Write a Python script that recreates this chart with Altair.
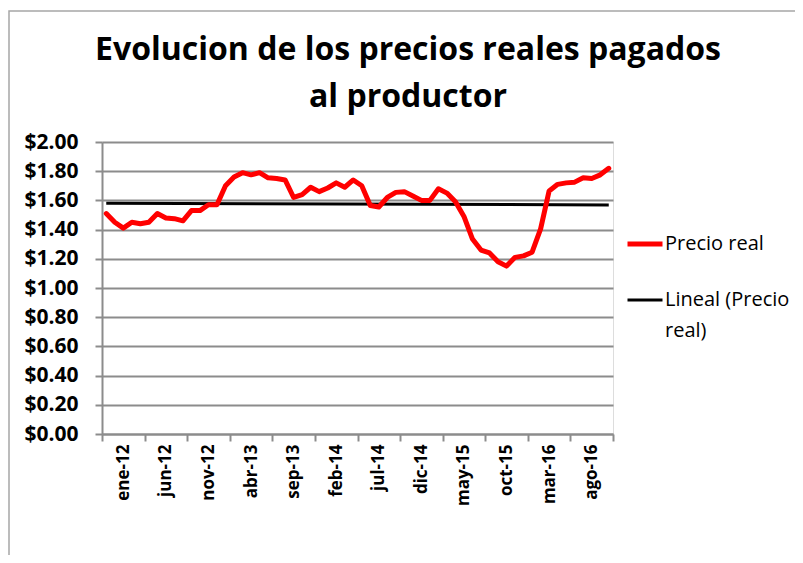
import json
import altair as alt
import pandas as pd

# Monthly real price paid to producer, ene-12 .. dic-16 (60 months)
precio = [1.51, 1.45, 1.41, 1.45, 1.44, 1.45, 1.51, 1.48, 1.475, 1.46,
          1.53, 1.53, 1.57, 1.57, 1.70, 1.76, 1.79, 1.775, 1.79, 1.755,
          1.75, 1.74, 1.62, 1.64, 1.69, 1.66, 1.685, 1.72, 1.69, 1.74,
          1.70, 1.565, 1.555, 1.62, 1.655, 1.66, 1.63, 1.60, 1.60, 1.68,
          1.65, 1.59, 1.49, 1.335, 1.26, 1.24, 1.18, 1.15, 1.21, 1.22,
          1.245, 1.405, 1.665, 1.71, 1.72, 1.725, 1.755, 1.75, 1.775, 1.82]
indice = list(range(len(precio)))
etiquetas = ["ene-12", "jun-12", "nov-12", "abr-13", "sep-13", "feb-14",
             "jul-14", "dic-14", "may-15", "oct-15", "mar-16", "ago-16"]
series = ["Precio real", "Lineal (Precio real)"]
colores = ["#ff0000", "#000000"]
grosores = [5, 3]
titulo = ["Evolucion de los precios reales pagados", "al productor"]

df = pd.DataFrame({"idx": indice, "precio": precio})

tick_vals = [-0.5 + 5 * k for k in range(13)]
label_vals = [2 + 5 * k for k in range(12)]
label_expr = ("floor(datum.value) == datum.value ? "
              + json.dumps(etiquetas) + "[(datum.value - 2) / 5] : ''")

GRID = "#8c8c8c"
FONT = "Open Sans"

x_enc = alt.X(
    "idx:Q",
    scale=alt.Scale(domain=[-0.5, 59.5], nice=False, zero=False),
    axis=alt.Axis(
        title=None, values=tick_vals + label_vals, labelExpr=label_expr,
        grid=False, domainColor=GRID, domainWidth=2,
        tickColor=GRID, tickWidth=2, tickSize=7,
        tickOpacity={"condition": {"test": "floor(datum.value) != datum.value", "value": 1}, "value": 0},
        labelAngle=270, labelFont=FONT, labelFontSize=17, labelFontWeight="bold",
        labelColor="black", labelPadding=3, labelOverlap=False,
    ),
)
y_enc = alt.Y(
    "precio:Q",
    scale=alt.Scale(domain=[0, 2], nice=False),
    axis=alt.Axis(
        title=None, values=[round(0.2 * k, 1) for k in range(11)], format="$.2f",
        grid=True, gridColor=GRID, gridWidth=2,
        domainColor=GRID, domainWidth=2, tickColor=GRID, tickWidth=2, tickSize=7,
        labelFont=FONT, labelFontSize=21, labelFontWeight="bold", labelColor="black",
        labelPadding=17, labelOverlap=False,
    ),
)

color_enc = alt.Color(
    "serie:N",
    scale=alt.Scale(domain=series, range=colores),
    legend=alt.Legend(
        title=None, orient="none", legendX=523, legendY=82,
        symbolType="stroke", symbolSize=1225, symbolStrokeWidth=4,
        labelFont=FONT, labelFontSize=20, labelColor="black", labelLimit=300,
        labelExpr="datum.label == 'Lineal (Precio real)' ? ['Lineal (Precio', 'real)'] : datum.label",
        rowPadding=27, labelOffset=0,
    ),
)
width_enc = alt.StrokeWidth(
    "serie:N",
    scale=alt.Scale(domain=series, range=grosores),
    legend=None,
)

linea = alt.Chart(df).transform_calculate(serie="'Precio real'").mark_line(
    strokeJoin="round", strokeCap="round"
).encode(x=x_enc, y=y_enc, color=color_enc, strokeWidth=width_enc)

tendencia = alt.Chart(df).transform_regression("idx", "precio").transform_calculate(
    serie="'Lineal (Precio real)'"
).mark_line().encode(x=x_enc, y=y_enc, color=color_enc, strokeWidth=width_enc)

unico = alt.Data(values=[{"a": 1}])

marco = alt.Chart(unico).mark_rect(
    fill=None, stroke="#a6a6a6", strokeWidth=1.5
).encode(x=alt.value(-93), y=alt.value(-131), x2=alt.value(760), y2=alt.value(470))

encabezado = alt.Chart(unico).mark_text(
    font=FONT, fontSize=32, fontWeight="bold", color="black",
    align="center", baseline="alphabetic", lineHeight=47,
).encode(x=alt.value(306), y=alt.value(-82), text=alt.value(titulo))

chart = alt.layer(marco, encabezado, tendencia, linea).properties(
    width=511, height=292,
    autosize=alt.AutoSizeParams(type="none"),
    padding={"left": 94, "top": 134, "right": 182, "bottom": 121},
).configure_view(stroke=None).configure(
    style={"guide-label": {"lineHeight": 31}}
)

chart.save("out.html", embed_options={"renderer": "svg", "actions": False})
